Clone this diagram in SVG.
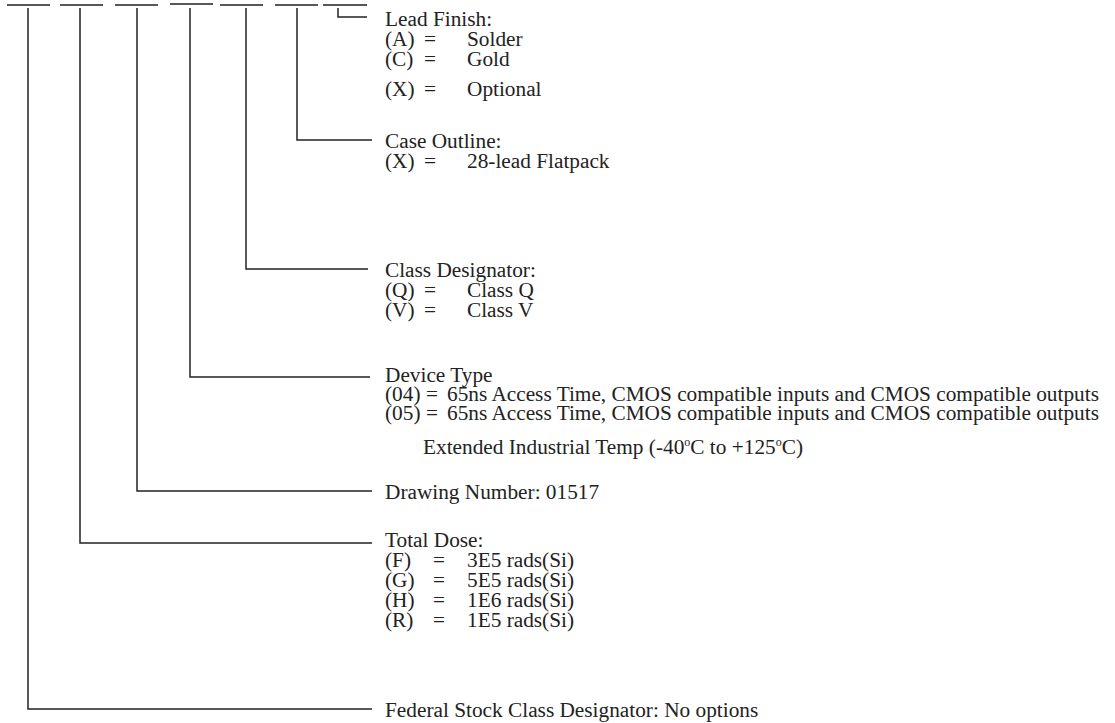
<svg xmlns="http://www.w3.org/2000/svg" width="1115" height="723" viewBox="0 0 1115 723">
<style>
  .ln { stroke:#222; stroke-width:1.5; fill:none; }
  text { font-family:"Liberation Serif","Times New Roman",serif; font-size:21.3px; fill:#222; }
  .sup { font-size:12px; }
</style>
<rect width="1115" height="723" fill="#fff"/>
<g id="connectors">
  <path class="ln" d="M7 5 H50 M60 5 H103 M115 5 H158 M170 4 H213 M220 5 H263 M275 5 H318 M323 5 H367"/>
  <path class="ln" d="M28 8 V709 H372"/>
  <path class="ln" d="M80 8 V543 H372"/>
  <path class="ln" d="M137 8 V491 H372"/>
  <path class="ln" d="M190 8 V377 H370"/>
  <path class="ln" d="M246 8 V269 H368"/>
  <path class="ln" d="M297 8 V140 H372"/>
  <path class="ln" d="M338 8 V17 H367"/>
</g>
<g id="lead-finish">
  <text x="385" y="26">Lead Finish:</text>
  <text x="385" y="46">(A)</text><text x="424" y="46">=</text><text x="467" y="46">Solder</text>
  <text x="385" y="66">(C)</text><text x="424" y="66">=</text><text x="467" y="66">Gold</text>
  <text x="385" y="96">(X)</text><text x="424" y="96">=</text><text x="467" y="96">Optional</text>
</g>
<g id="case-outline">
  <text x="385" y="148">Case Outline:</text>
  <text x="385" y="168">(X)</text><text x="424" y="168">=</text><text x="467" y="168">28-lead Flatpack</text>
</g>
<g id="class-designator">
  <text x="385" y="277">Class Designator:</text>
  <text x="385" y="297">(Q)</text><text x="424" y="297">=</text><text x="467" y="297">Class Q</text>
  <text x="385" y="317">(V)</text><text x="424" y="317">=</text><text x="467" y="317">Class V</text>
</g>
<g id="device-type">
  <text x="385" y="382">Device Type</text>
  <text x="385" y="401">(04)</text><text x="426" y="401">=</text><text x="447" y="401">65ns Access Time, CMOS compatible inputs and CMOS compatible outputs</text>
  <text x="385" y="420">(05)</text><text x="426" y="420">=</text><text x="447" y="420">65ns Access Time, CMOS compatible inputs and CMOS compatible outputs</text>
  <text x="423" y="454">Extended Industrial Temp (-40<tspan class="sup" dy="-8">o</tspan><tspan dy="8">C to +125</tspan><tspan class="sup" dy="-8">o</tspan><tspan dy="8">C)</tspan></text>
</g>
<g id="drawing-number">
  <text x="385" y="499">Drawing Number: 01517</text>
</g>
<g id="total-dose">
  <text x="385" y="547">Total Dose:</text>
  <text x="385" y="567">(F)</text><text x="433" y="567">=</text><text x="467" y="567">3E5 rads(Si)</text>
  <text x="385" y="587">(G)</text><text x="433" y="587">=</text><text x="467" y="587">5E5 rads(Si)</text>
  <text x="385" y="607">(H)</text><text x="433" y="607">=</text><text x="467" y="607">1E6 rads(Si)</text>
  <text x="385" y="627">(R)</text><text x="433" y="627">=</text><text x="467" y="627">1E5 rads(Si)</text>
</g>
<g id="federal-stock">
  <text x="385" y="717">Federal Stock Class Designator: No options</text>
</g>
</svg>
